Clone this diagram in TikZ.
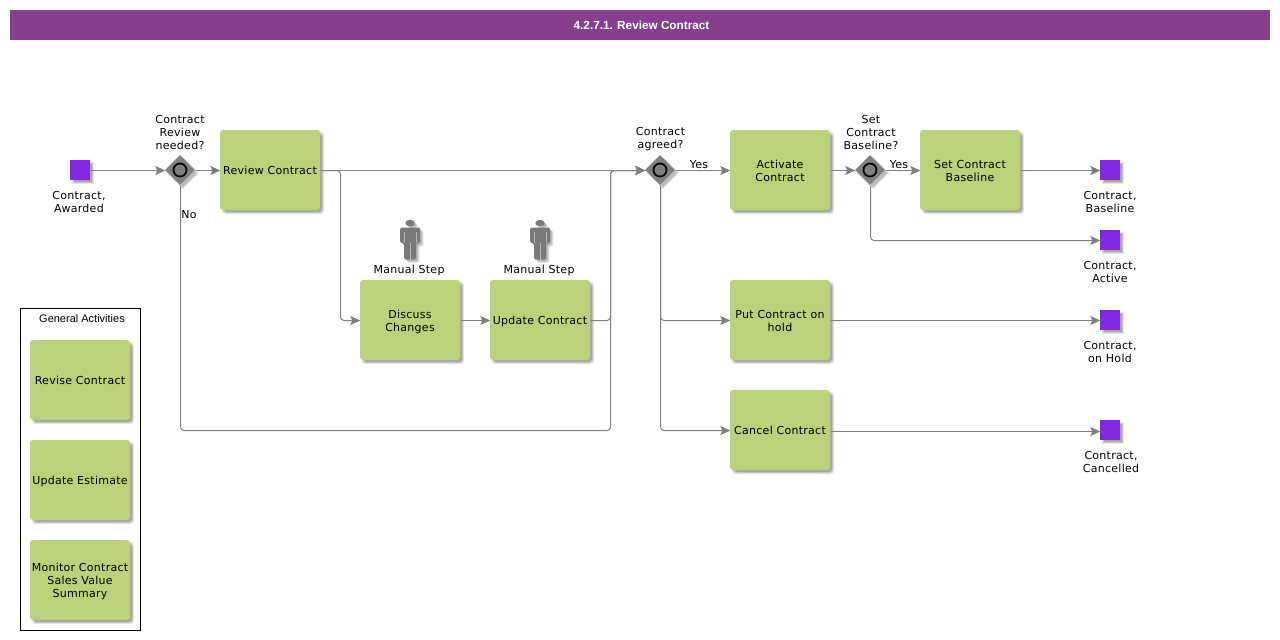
\documentclass[tikz,border=0pt]{standalone}
\usepackage{fontspec}
\setmainfont[LetterSpace=2.5]{DejaVu Sans}
\newfontfamily\titlefont{Liberation Sans}
\usetikzlibrary{arrows.meta,shapes.geometric,calc}
\definecolor{barpurple}{HTML}{873E8D}
\definecolor{taskgreen}{HTML}{BBD27A}
\definecolor{endpurple}{HTML}{8228E0}
\definecolor{flowgray}{HTML}{7F7F7F}
\definecolor{gwgray}{HTML}{808080}
\newcommand{\topstrut}{\rule{0pt}{13.5pt}}
\newcommand{\softshadow}[5]{%
  \foreach \d/\o in {0/0.10,1/0.13,2/0.16}{
    \fill[black,opacity=\o,rounded corners=#5pt] ({#1+3-1+\d},{#2+3-1+\d}) rectangle ({#3+3+1-\d},{#4+3+1-\d});
  }}
\newcommand{\tasknode}[5][3]{%
  \softshadow{#3-50}{#4-40}{#3+50}{#4+40}{3}
  \node[taskbox] (#2) at (#3,#4) {\topstrut #5\rule[-#1pt]{0pt}{#1pt}};}
\newcommand{\stopnode}[5][0]{%
  \softshadow{#3-10}{#4-10}{#3+10}{#4+10}{0}
  \node[stopbox] (#2) at (#3,#4) {};
  \node[lbl] (#2label) at ({#3+#1},{#4+32}) {#5};}
\newcommand{\gwnode}[3]{%
  \fill[black,opacity=.12] ({#2+3},{#3-13}) -- ({#2+19},{#3+3}) -- ({#2+3},{#3+19}) -- ({#2-13},{#3+3}) -- cycle;
  \fill[black,opacity=.16] ({#2+3},{#3-11}) -- ({#2+17},{#3+3}) -- ({#2+3},{#3+17}) -- ({#2-11},{#3+3}) -- cycle;
  \node[gwbox] (#1) at (#2,#3) {};
  \draw[black,line width=1.7pt,fill=gwgray] (#2,#3) circle (6.5);
  }
\newcommand{\personshape}{%
  (0.5,3) ellipse (4.7 and 3.2)
  (-9.5,7.5) -- (10.5,7.5) -- (10.5,23) -- (6.5,23) -- (6.5,39.5) -- (-5.5,39.5) -- (-5.5,23) -- (-9.5,23) -- cycle}
\newcommand{\person}[2]{%
  \begin{scope}[shift={(#1,#2)}]
    \foreach \dx/\o in {3.5/.08,2.5/.12,1.5/.12}{
      \fill[black,opacity=\o,shift={(\dx,\dx)},rounded corners=1.5pt] \personshape;
    }
    \fill[manfill,rounded corners=1.5pt] \personshape;
    \draw[white,opacity=.45,line width=.8pt] (0.5,23) -- (0.5,39.5) (-5.5,12) -- (-5.5,23) (6.5,12) -- (6.5,23);
  \end{scope}}
\tikzset{
  x=1pt,y=-1pt,
  manfill/.style={fill=flowgray!95!black},
  taskbox/.style={fill=taskgreen,draw=none,rounded corners=3pt,minimum width=100pt,minimum height=80pt,inner sep=0pt,align=center,font=\fontsize{11}{13}\selectfont},
  stopbox/.style={fill=endpurple,draw=none,minimum size=20pt,inner sep=0pt},
  gwbox/.style={diamond,aspect=1,fill=gwgray,draw=none,minimum size=30pt,inner sep=0pt},
  lbl/.style={align=center,inner sep=0pt,font=\fontsize{11}{13}\selectfont},
  flow/.style={draw=flowgray,line width=1pt,-{Stealth[length=10pt,width=9pt,inset=2pt,fill=flowgray]},rounded corners=3.5pt},
}
\begin{document}
\begin{tikzpicture}
\useasboundingbox (0,0) rectangle (1280,640);
\fill[white] (0,0) rectangle (1280,640);
\node[fill=barpurple,minimum width=1260pt,minimum height=30pt,inner sep=0pt] (title) at (640,25) {};
\node[inner sep=0pt,text=white,font=\titlefont\bfseries\fontsize{11.75}{14}\selectfont] (titletext) at (641.5,25) {4.2.7.1. Review Contract};
\node[draw=black,line width=.8pt,minimum width=120pt,minimum height=322pt,inner sep=0pt] (group) at (80.5,469.5) {};
\node[inner sep=0pt,font=\titlefont\fontsize{11}{13}\selectfont] (grouplabel) at (82,319) {General Activities};
\tasknode[5]{revise}{80}{380}{Revise Contract}
\tasknode[5]{estimate}{80}{480}{Update Estimate}
\tasknode[5]{monitor}{80}{580}{Monitor Contract\\Sales Value\\Summary}
\stopnode[-1]{start}{80}{170}{Contract,\\Awarded}
\gwnode{gwa}{180}{170}
\node[lbl] (gwalabel) at (180,132) {Contract\\Review\\needed?};
\tasknode[5]{review}{270}{170}{Review Contract}
\tasknode{discuss}{410}{320}{Discuss\\Changes}
\tasknode[5]{update}{540}{320}{Update Contract}
\person{409.5}{220}
\person{539.5}{220}
\node[lbl] (manuala) at (409,270) {Manual Step};
\node[lbl] (manualb) at (539,270) {Manual Step};
\gwnode{gwb}{660}{170}
\node[lbl] (gwblabel) at (660.5,139) {Contract\\agreed?};
\tasknode{activate}{780}{170}{Activate\\Contract}
\gwnode{gwc}{870}{170}
\node[lbl] (gwclabel) at (871,132) {Set\\Contract\\Baseline?};
\tasknode{baseline}{970}{170}{Set Contract\\Baseline}
\tasknode{hold}{780}{320}{Put Contract on\\hold}
\tasknode[5]{cancel}{780}{430}{Cancel Contract}
\stopnode{endbase}{1110}{170}{Contract,\\Baseline}
\stopnode{endactive}{1110}{240}{Contract,\\Active}
\stopnode{endhold}{1110}{320}{Contract,\\on Hold}
\stopnode[1]{endcancel}{1110}{430}{Contract,\\Cancelled}
\begin{scope}[transform canvas={shift={(0.5,0.5)}}]
\draw[flow] (start.east) -- (gwa.west);
\draw[flow] (gwa.east) -- (review.west);
\draw[flow] (review.east) -- (gwb.west);
\draw[flow] (review.east) -- (340,170) -- (340,320) -- (discuss.west);
\draw[flow] (discuss.east) -- (update.west);
\draw[flow] (update.east) -- (610,320) -- (610,170) -- (gwb.west);
\draw[flow] (gwa.south) -- (180,430) -- (610,430) -- (610,170) -- (gwb.west);
\draw[flow] (gwb.east) -- (activate.west);
\draw[flow] (activate.east) -- (gwc.west);
\draw[flow] (gwc.east) -- (baseline.west);
\draw[flow] (baseline.east) -- (endbase.west);
\draw[flow] (gwc.south) -- (870,240) -- (endactive.west);
\draw[flow] (gwb.south) -- (660,320) -- (hold.west);
\draw[flow] (gwb.south) -- (660,430) -- (cancel.west);
\draw[flow] (hold.east) -- (endhold.west);
\draw[flow] ($(cancel.east)+(0,1)$) -- ($(endcancel.west)+(0,1)$);
\end{scope}
\node[lbl] (no) at (189,215) {No};
\node[lbl] (yesa) at (699,165) {Yes};
\node[lbl] (yesb) at (899,165) {Yes};
\end{tikzpicture}
\end{document}
